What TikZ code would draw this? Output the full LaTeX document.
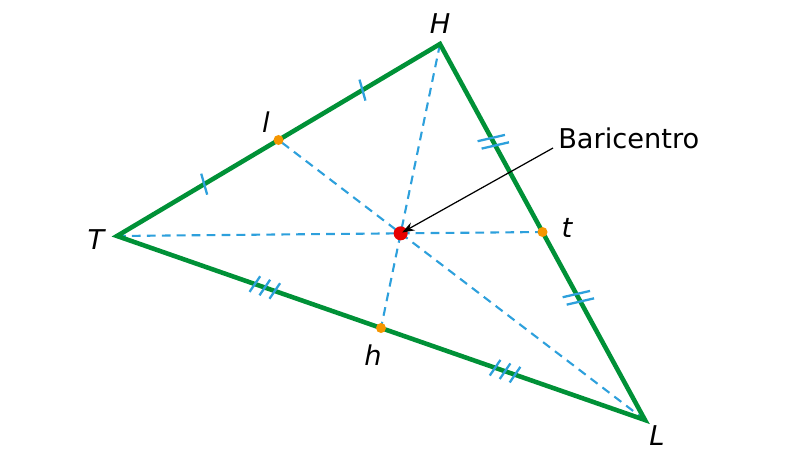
\documentclass[tikz,border=0pt]{standalone}
\usepackage{fontspec}
\setmainfont{DejaVu Sans}
\usetikzlibrary{arrows.meta, calc, decorations.markings}
\definecolor{sidegreen}{RGB}{0,145,55}
\definecolor{medblue}{RGB}{45,160,220}
\definecolor{midorange}{RGB}{245,150,0}
\definecolor{barired}{RGB}{230,0,0}

\begin{document}
\begin{tikzpicture}[
  x=0.02cm, y=-0.02cm,
  side/.style={draw=sidegreen, line width=2.6pt, line join=miter},
  median/.style={draw=medblue, line width=1.2pt, dash pattern=on 5pt off 3.5pt},
  tickline/.style={draw=medblue, line width=1.3pt},
  ticksone/.style 2 args={postaction={decorate, decoration={markings,
    mark=at position #1 with {\draw[tickline] (-1.6pt,-6pt) -- (1.6pt,6pt);},
    mark=at position #2 with {\draw[tickline] (-1.6pt,-6pt) -- (1.6pt,6pt);}}}},
  tickstwo/.style 2 args={postaction={decorate, decoration={markings,
    mark=at position #1 with {\foreach \d in {-2.4,2.4}
      \draw[tickline, xshift=\d pt] (-2.15pt,-7.7pt) -- (2.15pt,7.7pt);},
    mark=at position #2 with {\foreach \d in {-2.4,2.4}
      \draw[tickline, xshift=\d pt] (-2.15pt,-7.7pt) -- (2.15pt,7.7pt);}}}},
  ticksthree/.style 2 args={postaction={decorate, decoration={markings,
    mark=at position #1 with {\foreach \d in {-6,0,6}
      \draw[tickline, xshift=\d pt] (-1.4pt,-5.2pt) -- (1.4pt,5.2pt);},
    mark=at position #2 with {\foreach \d in {-6,0,6}
      \draw[tickline, xshift=\d pt] (-1.4pt,-5.2pt) -- (1.4pt,5.2pt);}}}},
  middot/.style={circle, fill=midorange, inner sep=0, minimum size=5.7pt},
  baridot/.style={circle, fill=barired, inner sep=0, minimum size=8pt},
  vlabel/.style={font=\itshape\fontsize{15.5}{18}\selectfont, inner sep=0},
  pointer/.style={-{Stealth[length=7pt, width=5pt]}, line width=0.7pt, shorten >=1pt}
]
\useasboundingbox (0,0) rectangle (800,460);

% vertices, midpoints, centroid
\coordinate (T) at (117,236);
\coordinate (H) at (440,44);
\coordinate (L) at (645,420);
\coordinate (mTH) at ($(T)!0.5!(H)$);
\coordinate (mHL) at ($(H)!0.5!(L)$);
\coordinate (mTL) at ($(T)!0.5!(L)$);
\coordinate (G) at ($1/3*(T)+1/3*(H)+1/3*(L)$);

% medians
\draw[median] (T) -- (mHL);
\draw[median] (H) -- (mTL);
\draw[median] (L) -- (mTH);

% triangle
\draw[side] (T) -- (H) -- (L) -- cycle;
\path[ticksone={0.27}{0.76}] (T) -- (H);
\path[tickstwo={0.26}{0.675}] (H) -- (L);
\path[ticksthree={0.28}{0.735}] (T) -- (L);

% points
\node[middot] (l) at (mTH) {};
\node[middot] (t) at (mHL) {};
\node[middot] (h) at (mTL) {};
\node[baridot] (bc) at (G) {};

% labels
\node[vlabel] (labH) at (440,24) {H};
\node[vlabel] (labT) at (96,240) {T};
\node[vlabel] (labL) at (657,436) {L};
\node[vlabel] (labl) at (266,122) {l};
\node[vlabel] (labt) at (567,228) {t};
\node[vlabel] (labh) at (373,355) {h};

\node[anchor=base west, inner sep=0, inner xsep=2.8pt,
  font=\fontsize{15.5}{18}\selectfont] (bari) at (553,148) {Baricentro};
\draw[pointer] (bari.base west) -- (bc.center);
\end{tikzpicture}
\end{document}
